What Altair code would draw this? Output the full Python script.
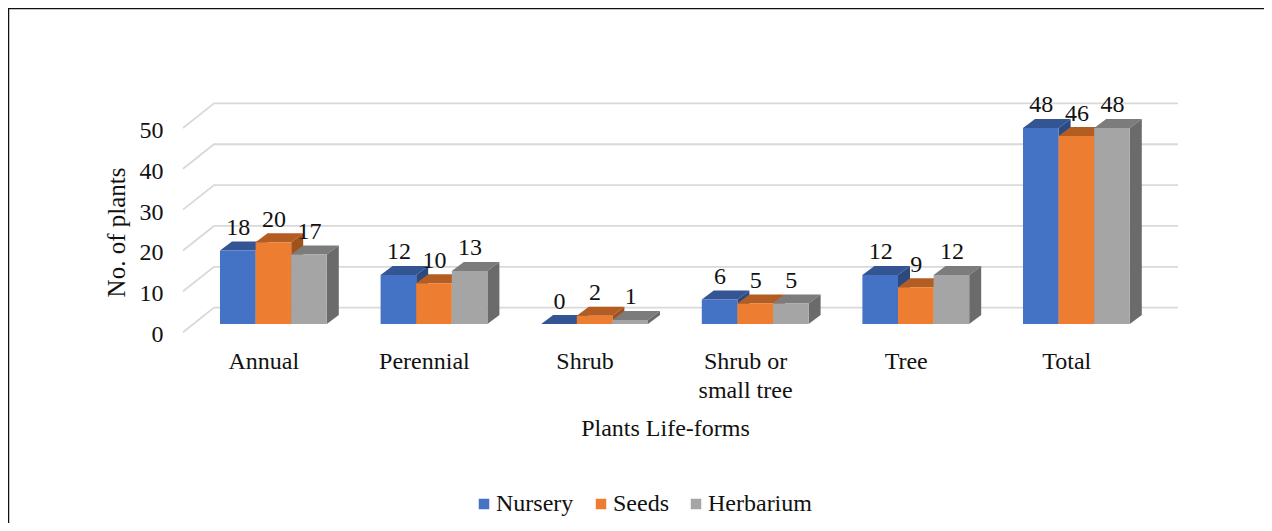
import json
import altair as alt
import pandas as pd

categories = ["Annual", "Perennial", "Shrub", "Shrub or small tree", "Tree", "Total"]
category_labels = ["Annual", "Perennial", "Shrub", ["Shrub or", "small tree"], "Tree", "Total"]
series_names = ["Nursery", "Seeds", "Herbarium"]
nursery = [18, 12, 0, 6, 12, 48]
seeds = [20, 10, 2, 5, 9, 46]
herbarium = [17, 13, 1, 5, 12, 48]
grid_values = [0, 10, 20, 30, 40, 50]

front_colors = ["#4472C4", "#ED7D31", "#A5A5A5"]
top_colors = ["#335593", "#B35D22", "#7C7C7C"]
side_colors = ["#2C4A80", "#A0521D", "#6B6B6B"]
FONT = "Liberation Serif"
TEXT = "#111111"
FS = 24

W, H = 1256, 515
PX_PER_UNIT = 4.085
BASE_Y = 324 - 8            # chart pixel of value 0 on bar fronts
START = 220 - 8
STEP = 160.6
BAR = 35.6
DX = 12
DY = 9 / PX_PER_UNIT
LABEL_START = 263.3 - 8
FLOOR_FRONT = -2.0
FLOOR_BACK = 4.0
GRID_X = [183 - 8, 214 - 8, 1178 - 8]

xs = alt.Scale(domain=[0, W], range=[0, W], nice=False, zero=False)
ys = alt.Scale(domain=[(BASE_Y - H) / PX_PER_UNIT, BASE_Y / PX_PER_UNIT], range=[H, 0],
               nice=False, zero=False)
cs = alt.Scale(domain=series_names, range=front_colors)

rows, tops, sides = [], [], []
for j, (name, vals) in enumerate(zip(series_names, [nursery, seeds, herbarium])):
    for i, (c, v) in enumerate(zip(categories, vals)):
        x0 = START + i * STEP + j * BAR
        x1 = x0 + BAR
        rows.append(dict(series=name, j=j, cat=c, x0=x0, x1=x1, v=v, zero=0, mid=(x0 + x1) / 2 + 0.5))
        for x, y, y2 in [(x0, v, v), (x0 + DX, v + DY, v), (x1, v + DY, v), (x1 + DX, v + DY, v + DY)]:
            tops.append(dict(j=j, cat=c, x=x, y=y, y2=y2))
        for x, y, y2 in [(x1, v, 0), (x1 + DX, v + DY, DY)]:
            sides.append(dict(j=j, cat=c, x=x, y=y, y2=y2))
bars = pd.DataFrame(rows)
tops = pd.DataFrame(tops)
sides = pd.DataFrame(sides)

grid = []
for g in grid_values:
    for x, off in zip(GRID_X, [FLOOR_FRONT, FLOOR_BACK, FLOOR_BACK]):
        grid.append(dict(g=g, x=x, y=g + off))
grid = pd.DataFrame(grid)

x_ticks = [LABEL_START + i * STEP for i in range(len(categories))]
x_expr = f"{json.dumps(category_labels)}[round((datum.value-{LABEL_START})/{STEP})]"
AXIS_Y = 349 - 8

x_axis = alt.Axis(values=x_ticks, labelExpr=x_expr, title="Plants Life-forms", domain=False, ticks=False,
                  grid=False, offset=AXIS_Y - H, labelPadding=0, labelFont=FONT, labelFontSize=FS,
                  labelColor=TEXT, labelLineHeight=29, labelAngle=0, labelOverlap=False, labelFlush=False,
                  labelBound=False, titleFont=FONT, titleFontSize=FS, titleFontWeight="normal", titleColor=TEXT,
                  titleX=665 - 8, titleY=429 - 350, titleBaseline="middle", titleAlign="center")
y_axis = alt.Axis(values=[g + FLOOR_FRONT for g in grid_values], labelExpr=f"format(datum.value+{-FLOOR_FRONT},'d')",
                  title="No. of plants", domain=False, ticks=False, grid=False, offset=-(163 - 8), labelPadding=0,
                  labelFont=FONT, labelFontSize=FS, labelColor=TEXT, labelOverlap=False, labelBound=False,
                  labelFlush=False, labelOffset=2.5, titleFont=FONT, titleFontSize=25, titleFontWeight="normal",
                  titleColor=TEXT, titleX=116 - 163, titleY=232 - 8, titleBaseline="middle", titleAlign="center",
                  titleAngle=270)

layers = [
    alt.Chart(pd.DataFrame({"a": [0]})).mark_rule(color="#111111", strokeWidth=1.5).encode(
        x=alt.value(0), x2=alt.value(W), y=alt.value(0.5)),
    alt.Chart(pd.DataFrame({"a": [0]})).mark_rule(color="#111111", strokeWidth=1.5).encode(
        x=alt.value(0.5), y=alt.value(0), y2=alt.value(H)),
    alt.Chart(grid).mark_line(color="#D9D9D9", strokeWidth=1.8).encode(
        x=alt.X("x:Q", scale=xs, axis=x_axis),
        y=alt.Y("y:Q", scale=ys, axis=y_axis),
        detail="g:N"),
]
for j in range(3):
    layers.append(alt.Chart(tops[tops.j == j]).mark_area(color=top_colors[j], interpolate="linear").encode(
        x=alt.X("x:Q", scale=xs, axis=x_axis),
        y=alt.Y("y:Q", scale=ys, axis=y_axis, stack=None), y2="y2:Q", detail="cat:N"))
    layers.append(alt.Chart(sides[sides.j == j]).mark_area(color=side_colors[j], interpolate="linear").encode(
        x=alt.X("x:Q", scale=xs, axis=x_axis),
        y=alt.Y("y:Q", scale=ys, axis=y_axis, stack=None), y2="y2:Q", detail="cat:N"))
    layers.append(alt.Chart(bars[bars.j == j]).mark_rect().encode(
        x=alt.X("x0:Q", scale=xs, axis=x_axis), x2="x1:Q",
        y=alt.Y("v:Q", scale=ys, axis=y_axis), y2="zero:Q",
        color=alt.Color("series:N", scale=cs, legend=alt.Legend(
            orient="none", legendX=472 - 8, legendY=492 - 8, direction="horizontal", title=None,
            symbolType="square", symbolSize=110, symbolStrokeWidth=0, labelFont=FONT, labelFontSize=FS,
            labelColor=TEXT, labelOffset=0, columnPadding=15, padding=0))))
layers.append(alt.Chart(bars).mark_text(font=FONT, fontSize=FS, color=TEXT, dy=-22.5, baseline="middle").encode(
    x=alt.X("mid:Q", scale=xs, axis=x_axis),
    y=alt.Y("v:Q", scale=ys, axis=y_axis),
    text="v:Q"))

chart = alt.layer(*layers).properties(width=W, height=H, padding=0,
                                      autosize=alt.AutoSizeParams(type="none")).configure_view(stroke=None)
chart.save("out.html", embed_options={"renderer": "svg", "actions": False})
